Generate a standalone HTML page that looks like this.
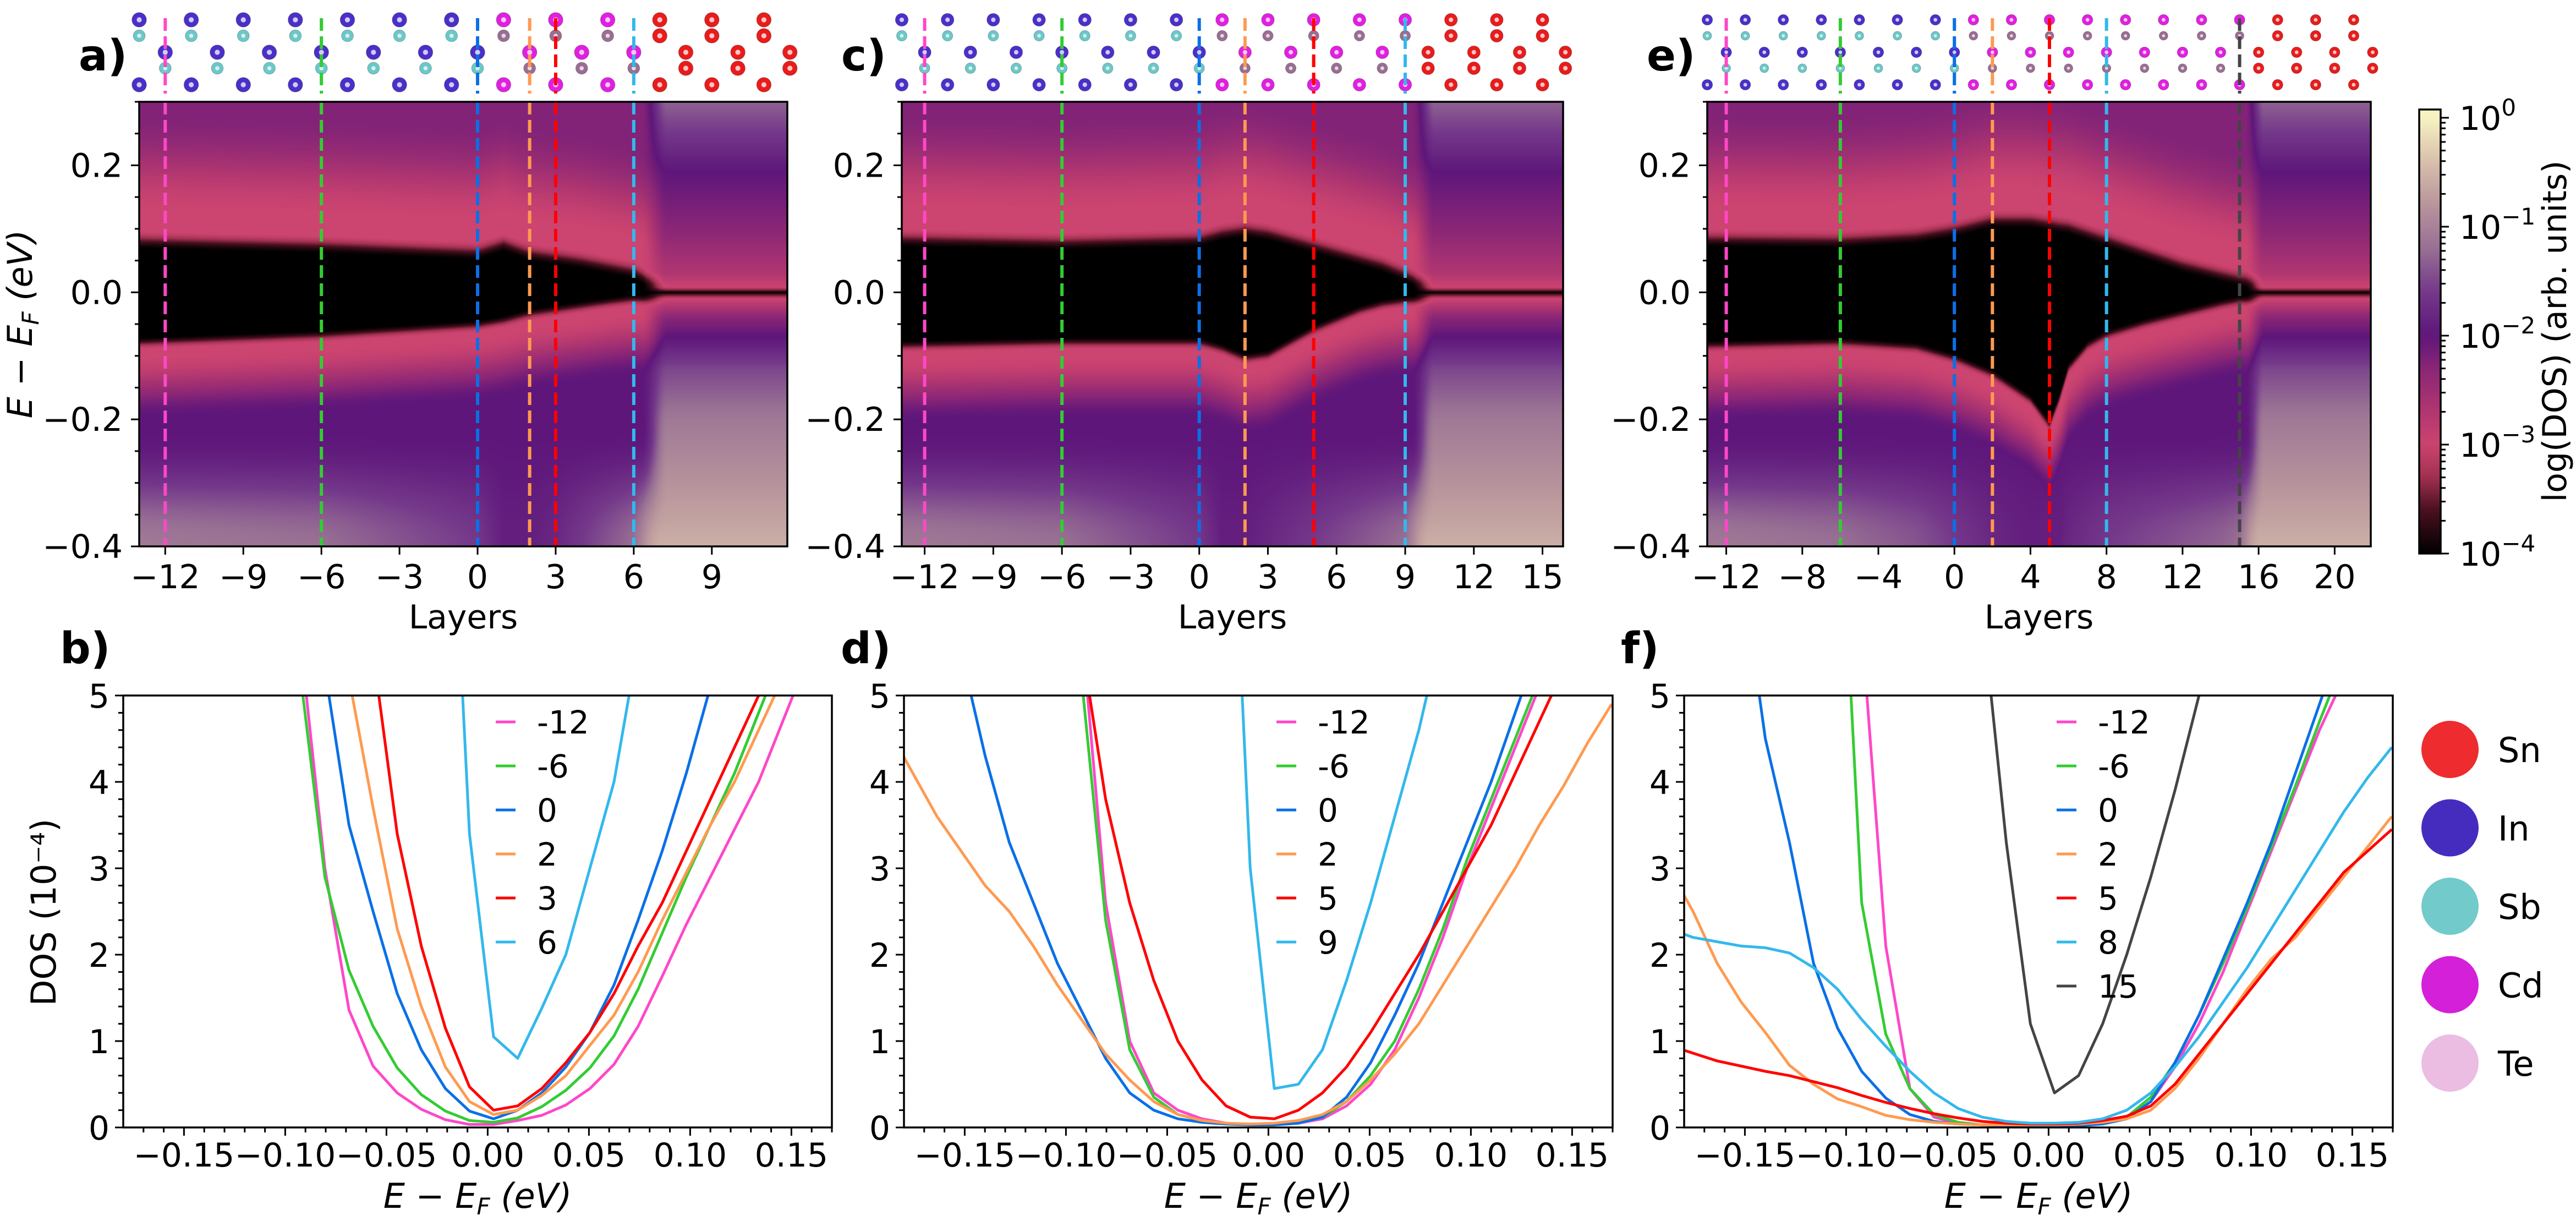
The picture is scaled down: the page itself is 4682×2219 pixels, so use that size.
<!DOCTYPE html>
<html>
<head>
<meta charset="utf-8">
<style>
html,body{margin:0;padding:0;background:#fff;}
body{width:4682px;height:2219px;overflow:hidden;position:relative;font-family:"DejaVu Sans","Liberation Sans",sans-serif;}
canvas{position:absolute;}
#fig{position:absolute;left:0;top:0;}
</style>
</head>
<body>
<canvas id="hm-a"></canvas>
<canvas id="hm-c"></canvas>
<canvas id="hm-e"></canvas>
<svg id="fig" width="4682" height="2219" xmlns="http://www.w3.org/2000/svg"></svg>
<script>
// ---------------- DATA ----------------
const energyGrid = [-0.1875,-0.1756,-0.1637,-0.1518,-0.1399,-0.128,-0.1161,-0.1042,-0.0923,-0.0804,-0.0685,-0.0566,-0.0447,-0.0328,-0.0209,-0.009,0.0029,0.0148,0.0267,0.0386,0.0505,0.0624,0.0743,0.0862,0.0981,0.11,0.1219,0.1338,0.1457,0.1576,0.1695];

const bLabels = ['-12','-6','0','2','3','6'];
const bDosM12 = [9,9,9,9,9,9,9,8,5.6,3.0,1.36,0.71,0.40,0.21,0.09,0.035,0.035,0.08,0.14,0.26,0.45,0.73,1.17,1.75,2.35,2.9,3.45,4.0,4.7,5.4,6.0];
const bDosM6 = [9,9,9,9,9,9,9,8,5.2,2.9,1.82,1.17,0.69,0.38,0.19,0.08,0.06,0.11,0.24,0.43,0.69,1.06,1.6,2.25,2.9,3.5,4.1,4.8,5.5,6.2,7.0];
const bDos0 = [9,9,9,9,9,9,9,9,8,5.3,3.5,2.5,1.55,0.9,0.45,0.19,0.1,0.2,0.4,0.7,1.1,1.65,2.4,3.2,4.1,5.1,6,7,8,9,9];
const bDos2 = [9,9,9,9,9,9,9,9,9,8,5.2,3.7,2.3,1.4,0.7,0.3,0.15,0.2,0.37,0.6,0.95,1.3,1.8,2.4,2.95,3.5,4.0,4.6,5.2,6.0,7.0];
const bDos3 = [9,9,9,9,9,9,9,9,9,9,8,5.5,3.4,2.1,1.15,0.47,0.2,0.25,0.45,0.75,1.1,1.55,2.1,2.6,3.2,3.8,4.4,5.0,5.7,6.4,7.0];
const bDos6 = [9,9,9,9,9,9,9,9,9,9,9,9,9,9,9,3.4,1.05,0.8,1.38,2.0,3.0,4.0,5.6,7,8,9,9,9,9,9,9];

const dLabels = ['-12','-6','0','2','5','9'];
const dDosM12 = [9,9,9,9,9,9,9,9,5.8,2.6,1.0,0.4,0.2,0.1,0.05,0.03,0.03,0.05,0.1,0.25,0.5,0.9,1.5,2.2,3.0,3.7,4.4,5.1,5.9,6.6,7.3];
const dDosM6 = [9,9,9,9,9,9,9,9,5.2,2.4,0.9,0.35,0.15,0.08,0.04,0.03,0.03,0.06,0.12,0.3,0.6,1.0,1.6,2.3,3.1,3.8,4.5,5.2,5.9,6.6,7.3];
const dDos0 = [9,9,8,5.5,4.3,3.3,2.6,1.9,1.35,0.8,0.4,0.2,0.1,0.06,0.04,0.03,0.03,0.05,0.12,0.35,0.75,1.3,1.9,2.6,3.3,4.0,4.8,5.6,6.4,7.2,8];
const dDos2 = [4.6,4.1,3.6,3.2,2.8,2.5,2.1,1.65,1.25,0.85,0.55,0.3,0.15,0.08,0.05,0.04,0.05,0.08,0.15,0.3,0.55,0.85,1.2,1.65,2.1,2.55,3.0,3.5,3.95,4.45,4.9];
const dDos5 = [9,9,9,9,9,9,9,8,5.6,3.8,2.6,1.7,1.0,0.55,0.25,0.12,0.1,0.2,0.4,0.7,1.1,1.55,2.0,2.5,3.0,3.5,4.1,4.7,5.3,6,6.7];
const dDos9 = [9,9,9,9,9,9,9,9,9,9,9,9,9,9,9,3.0,0.45,0.5,0.9,1.7,2.6,3.6,4.6,5.8,7,8,9,9,9,9,9];

const fLabels = ['-12','-6','0','2','5','8','15'];
const fDosM12 = [9,9,9,9,9,9,9,9,5.8,2.1,0.45,0.12,0.05,0.03,0.02,0.02,0.02,0.03,0.05,0.1,0.3,0.7,1.2,1.8,2.5,3.2,3.9,4.6,5.2,5.9,6.6];
const fDosM6 = [9,9,9,9,9,9,9,8,2.6,1.08,0.45,0.15,0.06,0.03,0.02,0.02,0.02,0.02,0.05,0.12,0.35,0.75,1.3,1.9,2.55,3.25,3.95,4.7,5.4,6.1,6.8];
const fDos0 = [9,9,8,6.5,4.5,3.3,1.9,1.15,0.65,0.34,0.15,0.07,0.04,0.03,0.02,0.02,0.02,0.02,0.04,0.1,0.3,0.75,1.3,1.95,2.6,3.3,4.1,4.9,5.7,6.5,7.3];
const fDos2 = [3.0,2.5,1.9,1.45,1.1,0.72,0.5,0.33,0.24,0.14,0.09,0.06,0.04,0.03,0.03,0.03,0.03,0.04,0.06,0.1,0.2,0.45,0.8,1.2,1.6,1.95,2.2,2.55,2.9,3.25,3.6];
const fDos5 = [0.95,0.86,0.77,0.71,0.65,0.6,0.53,0.46,0.37,0.29,0.22,0.16,0.11,0.07,0.05,0.04,0.04,0.05,0.08,0.13,0.25,0.5,0.85,1.2,1.55,1.9,2.25,2.6,2.95,3.2,3.45];
const fDos8 = [2.3,2.2,2.15,2.1,2.08,2.02,1.85,1.6,1.25,0.94,0.65,0.4,0.22,0.12,0.07,0.05,0.05,0.06,0.1,0.2,0.4,0.7,1.05,1.45,1.85,2.3,2.75,3.2,3.65,4.05,4.4];
const fDos15 = [9,9,9,9,9,9,9,9,9,9,9,9,9,6,3.3,1.2,0.4,0.6,1.2,2.0,2.9,3.9,5.0,6.2,7,8,9,9,9,9,9];

const dosYTicks = [0,1,2,3,4,5];
const dosXTicks = [-0.15,-0.10,-0.05,0.00,0.05,0.10,0.15];
const dosXTickLabels = ['\u22120.15','\u22120.10','\u22120.05','0.00','0.05','0.10','0.15'];

const hmYTicks = [-0.4,-0.2,0.0,0.2];
const hmYTickLabels = ['\u22120.4','\u22120.2','0.0','0.2'];
const aTicks = [-12,-9,-6,-3,0,3,6,9];
const cTicks = [-12,-9,-6,-3,0,3,6,9,12,15];
const eTicks = [-12,-8,-4,0,4,8,12,16,20];
const aMarkers = [-12,-6,0,2,3,6];
const cMarkers = [-12,-6,0,2,5,9];
const eMarkers = [-12,-6,0,2,5,8,15];

const aKnotLayer = [-13,-6,0,1,2,3,4,5,6,6.5,7,12];
const aGapTop = [0.067,0.06,0.05,0.063,0.048,0.042,0.036,0.028,0.02,0.008,0.005,0.005];
const aGapBot = [-0.07,-0.059,-0.043,-0.036,-0.025,-0.019,-0.013,-0.007,-0.002,-0.003,-0.004,-0.004];
const aBotVal = [-1.1,-1.2,-1.6,-1.9,-1.9,-1.8,-1.6,-1.4,-1.2,-0.8,-0.6,-0.6];
const cKnotLayer = [-13,-6,0,1,2,3,4,5,6,7,8,9,9.5,10,16];
const cGapTop = [0.07,0.065,0.07,0.08,0.085,0.08,0.07,0.06,0.05,0.04,0.03,0.015,0.006,0.005,0.005];
const cGapBot = [-0.075,-0.07,-0.07,-0.08,-0.095,-0.09,-0.07,-0.05,-0.035,-0.02,-0.01,-0.005,-0.004,-0.004,-0.004];
const cBotVal = [-1.1,-1.2,-1.6,-1.9,-1.9,-1.8,-1.7,-1.6,-1.5,-1.4,-1.3,-1.2,-0.8,-0.6,-0.6];
const eKnotLayer = [-13,-6,-2,0,2,4,5,5.5,6,7,8,10,12,14,15,15.5,16,22];
const eGapTop = [0.07,0.068,0.075,0.085,0.1,0.1,0.095,0.092,0.09,0.08,0.07,0.05,0.03,0.015,0.008,0.005,0.005,0.005];
const eGapBot = [-0.075,-0.07,-0.078,-0.095,-0.12,-0.16,-0.2,-0.16,-0.11,-0.075,-0.058,-0.04,-0.025,-0.01,-0.004,-0.004,-0.004,-0.004];
const eBotVal = [-1.1,-1.2,-1.4,-1.6,-1.8,-1.9,-1.9,-1.9,-1.8,-1.7,-1.6,-1.5,-1.4,-1.3,-1.2,-0.8,-0.6,-0.6];
const metalE = [0.3,0.22,0.19,0.1,0.03,0.008,0.002,0,-0.003,-0.01,-0.04,-0.07,-0.12,-0.2,-0.4];
const metalL = [-1.3,-1.8,-2.0,-2.3,-2.7,-3.0,-3.6,-4,-3.6,-3.0,-2.3,-2.0,-1.5,-1.1,-0.55];

const cbTickExps = [0,-1,-2,-3,-4];
const elementNames = ['Sn','In','Sb','Cd','Te'];
const elementColors = ['#ee2b2e','#462cbe','#72cbca','#d420d8','#ebbde3'];

// ---------------- HELPERS ----------------
const NS = 'http://www.w3.org/2000/svg';
const svg = document.getElementById('fig');
const FONT = '"DejaVu Sans","Liberation Sans",sans-serif';
const seriesColors = ['#ff47c8','#33cc33','#0a70e6','#ff9a50','#ff0000','#33b8ec','#444444'];

function mk(tag, attrs, parent, name, inter) {
  const el = document.createElementNS(NS, tag);
  for (const k in attrs) el.setAttribute(k, attrs[k]);
  
  
  (parent || svg).appendChild(el);
  return el;
}
function txt(s, x, y, size, anchor, parent, name, extra) {
  const a = Object.assign({x:x, y:y, 'font-size':size, 'text-anchor':anchor, 'font-family':FONT, fill:'#000'}, extra || {});
  const t = mk('text', a, parent, name, false);
  t.textContent = s;
  return t;
}
function lerpKnots(xs, ys, x) {
  if (x <= xs[0]) return ys[0];
  for (let i = 1; i < xs.length; i++) {
    if (x <= xs[i]) { const t = (x - xs[i-1])/(xs[i]-xs[i-1]); return ys[i-1] + t*(ys[i]-ys[i-1]); }
  }
  return ys[ys.length-1];
}
function sm(t){ t = Math.max(0, Math.min(1, t)); return t*t*(3-2*t); }

const cmapL = [-4,-3.6,-3.3,-3.0,-2.7,-2.3,-2.0,-1.6,-1.2,-0.8,-0.4,0,0.1];
const cmapC = ['#000000','#4a1020','#a03050','#cc4470','#b03670','#8a2676','#5e167a','#74388a','#987094','#b8949c','#d8c0ac','#f8f2c0','#fbf6c4'];
function hex(c){ return [parseInt(c.substr(1,2),16),parseInt(c.substr(3,2),16),parseInt(c.substr(5,2),16)]; }
const cmapRGB = cmapC.map(hex);
function cmap(L) {
  if (L <= cmapL[0]) return cmapRGB[0];
  for (let i = 1; i < cmapL.length; i++) {
    if (L <= cmapL[i]) { const t = (L-cmapL[i-1])/(cmapL[i]-cmapL[i-1]); const a = cmapRGB[i-1], b = cmapRGB[i]; return [a[0]+t*(b[0]-a[0]), a[1]+t*(b[1]-a[1]), a[2]+t*(b[2]-a[2])]; }
  }
  return cmapRGB[cmapRGB.length-1];
}
const LUT = []; for (let i = 0; i <= 1024; i++) LUT.push(cmap(-4 + i*4.1/1024));

// ---------------- HEATMAPS ----------------
const HT = 185, HB = 993, EMIN = -0.4, EMAX = 0.3;
const hmPanels = [
  {id:'a', canvas:'hm-a', left:253, right:1431, xmin:-13, xmax:11.9, ticks:aTicks, markers:aMarkers, markerColors:[0,1,2,3,4,5], knots:aKnotLayer, gt:aGapTop, gb:aGapBot, bv:aBotVal, boundary:6.3, cdEnd:6, label:'a)'},
  {id:'c', canvas:'hm-c', left:1639, right:2841, xmin:-13, xmax:15.9, ticks:cTicks, markers:cMarkers, markerColors:[0,1,2,3,4,5], knots:cKnotLayer, gt:cGapTop, gb:cGapBot, bv:cBotVal, boundary:9.3, cdEnd:9, label:'c)'},
  {id:'e', canvas:'hm-e', left:3103, right:4309, xmin:-13, xmax:21.9, ticks:eTicks, markers:eMarkers, markerColors:[0,1,2,3,4,5,6], knots:eKnotLayer, gt:eGapTop, gb:eGapBot, bv:eBotVal, boundary:15.3, cdEnd:15, label:'e)'}
];
const yE = E => HB - (E - EMIN)/(EMAX - EMIN)*(HB - HT);

hmPanels.forEach(p => {
  const W = p.right - p.left, H = HB - HT;
  const cv = document.getElementById(p.canvas);
  cv.width = W; cv.height = H;
  cv.style.left = p.left + 'px'; cv.style.top = HT + 'px';
  const ctx = cv.getContext('2d');
  const img = ctx.createImageData(W, H);
  const Es = [], Lm = [];
  const mE = metalE.slice().reverse(), mL = metalL.slice().reverse();
  for (let py = 0; py < H; py++) { const E = EMAX - (py+0.5)/H*(EMAX-EMIN); Es.push(E); Lm.push(lerpKnots(mE, mL, E)); }
  for (let px = 0; px < W; px++) {
    const u = p.xmin + (px+0.5)/W*(p.xmax - p.xmin);
    const gt = lerpKnots(p.knots, p.gt, u), gb = lerpKnots(p.knots, p.gb, u), bv = lerpKnots(p.knots, p.bv, u);
    const m = sm((u - p.boundary)/1.0);
    const topVal = -2.25;
    for (let py = 0; py < H; py++) {
      const E = Es[py];
      let Ls;
      if (E >= gt) {
        const d = E - gt;
        Ls = d < 0.03 ? -4 + sm(d/0.03) : -3 + (topVal+3)*sm((d-0.06)/0.15);
      } else if (E <= gb) {
        const d = gb - E;
        if (d < 0.02) Ls = -4 + sm(d/0.02);
        else {
          let L1 = -3 + sm((d-0.03)/0.1);
          if (E < -0.22) L1 = L1 + (bv - L1)*sm((-0.22-E)/0.18);
          Ls = L1;
        }
      } else Ls = -4;
      const L = (1-m)*Ls + m*Lm[py];
      const idx = Math.max(0, Math.min(1024, Math.round((L+4)/4.1*1024)));
      const c = LUT[idx];
      const o = (py*W + px)*4;
      img.data[o] = c[0]; img.data[o+1] = c[1]; img.data[o+2] = c[2]; img.data[o+3] = 255;
    }
  }
  ctx.putImageData(img, 0, 0);

  const g = mk('g', {}, svg, 'panel-' + p.id, false);
  const xS = v => p.left + (v - p.xmin)/(p.xmax - p.xmin)*(p.right - p.left);
  const lw = xS(1) - xS(0);
  const ag = mk('g', {}, g, 'atom-structure-' + p.id, false);
  for (let n = -13; n <= Math.floor(p.xmax + 0.2); n++) {
    const x = xS(n);
    let cat, an;
    if (n <= 0) { cat = 'In'; an = 'Sb'; } else if (n <= p.cdEnd) { cat = 'Cd'; an = 'Te'; } else { cat = 'Sn'; an = 'Sn'; }
    const rows = (Math.abs(n) % 2 === 1) ? [[36,cat],[65,an],[154,cat]] : [[95,cat],[124,an]];
    rows.forEach(r => {
      const el = r[1];
      const col = {In:'#4a30c8', Sb:'#6cc8c8', Cd:'#e020e0', Te:'#9a6e92', Sn:'#e81c1c'}[el];
      const rad = (el === 'Sb' || el === 'Te') ? lw*0.23 : lw*0.28;
      mk('circle', {cx:x, cy:r[0], r:rad, fill:col, stroke:'rgba(0,0,0,0.25)', 'stroke-width':1}, ag, 'atom-' + el.toLowerCase(), false);
      mk('circle', {cx:x, cy:r[0], r:rad*0.35, fill:'rgba(255,255,255,0.75)'}, ag, 'atom-highlight', false);
    });
  }
  p.markers.forEach((mv, i) => {
    const col = seriesColors[p.markerColors[i]];
    const x = xS(mv);
    mk('line', {x1:x, y1:33, x2:x, y2:170, stroke:col, 'stroke-width':6, 'stroke-dasharray':'23 10'}, g, 'layer-marker-top-' + mv, false);
    mk('line', {x1:x, y1:HT, x2:x, y2:HB, stroke:col, 'stroke-width':6, 'stroke-dasharray':'23 10'}, g, 'layer-marker-' + mv, false);
  });
  mk('rect', {x:p.left, y:HT, width:p.right-p.left, height:HB-HT, fill:'none', stroke:'#000', 'stroke-width':3.5}, g, 'heatmap-frame-' + p.id, false);
  for (let k = -8; k <= 6; k++) {
    const v = k*0.05, y = yE(v);
    const major = Math.abs(Math.round(v*100) % 20) === 0;
    mk('line', {x1:p.left - (major ? 15 : 8), y1:y, x2:p.left, y2:y, stroke:'#000', 'stroke-width':3}, g, major ? 'y-tick-major' : 'y-tick-minor', false);
  }
  hmYTicks.forEach((v, i) => txt(hmYTickLabels[i], p.left - 30, yE(v) + 21, 60, 'end', g, 'y-tick-label'));
  p.ticks.forEach(v => {
    const x = xS(v);
    mk('line', {x1:x, y1:HB, x2:x, y2:HB+15, stroke:'#000', 'stroke-width':3}, g, 'x-tick', false);
    txt(v < 0 ? '\u2212' + Math.abs(v) : String(v), x, 1069, 60, 'middle', g, 'x-tick-label');
  });
  txt('Layers', (p.left + p.right)/2, 1142, 60, 'middle', g, 'x-axis-title');
  txt(p.label, p.left - 110, 128, 78, 'start', g, 'panel-label-' + p.id, {'font-weight':'bold'});
});

{
  const t = mk('text', {x:0, y:0, transform:'translate(58,589) rotate(-90)', 'font-size':62, 'text-anchor':'middle', 'font-family':FONT, 'font-style':'italic'}, svg, 'y-axis-title-heatmap', false);
  t.innerHTML = 'E \u2212 E<tspan dy="12" font-size="42">F</tspan><tspan dy="-12"> (eV)</tspan>';
}

// ---------------- COLORBAR ----------------
{
  const cbL = 4397, cbR = 4436, cbT = 199, cbB = 1006;
  const dec = 198, y0 = 214;
  const yL = L => y0 - L*dec;
  const g = mk('g', {}, svg, 'colorbar', false);
  const defs = mk('defs', {}, g, 'colorbar-defs', false);
  const lg = mk('linearGradient', {id:'cbgrad', x1:0, y1:1, x2:0, y2:0}, defs, 'colorbar-gradient', false);
  const Ltop = (y0 - cbT)/dec, Lbot = (y0 - cbB)/dec;
  for (let i = 0; i <= 40; i++) {
    const L = Lbot + i/40*(Ltop - Lbot);
    const c = cmap(L);
    mk('stop', {offset:(i/40), 'stop-color':'rgb(' + c.map(Math.round).join(',') + ')'}, lg, 'colorbar-stop', false);
  }
  mk('rect', {x:cbL, y:cbT, width:cbR-cbL, height:cbB-cbT, fill:'url(#cbgrad)', stroke:'#000', 'stroke-width':3.5}, g, 'colorbar-bar', false);
  for (let d = -4; d <= 0; d++) {
    for (let k = 1; k <= 9; k++) {
      const L = d + Math.log10(k);
      if (L > Ltop || L < Lbot - 0.001) continue;
      const y = yL(L);
      mk('line', {x1:cbR, y1:y, x2:cbR + (k === 1 ? 15 : 9), y2:y, stroke:'#000', 'stroke-width':3}, g, k === 1 ? 'colorbar-tick-major' : 'colorbar-tick-minor', false);
    }
  }
  cbTickExps.forEach(e => {
    const t = mk('text', {x:4470, y:yL(e) + 22, 'font-size':60, 'font-family':FONT}, g, 'colorbar-tick-label', false);
    t.innerHTML = '10<tspan dy="-26" font-size="42">' + (e < 0 ? '\u2212' + Math.abs(e) : '0') + '</tspan>';
  });
  txt('log(DOS) (arb. units)', 0, 0, 60, 'middle', g, 'colorbar-title', {transform:'translate(4664,602) rotate(-90)'});
}

// ---------------- DOS LINE PLOTS ----------------
const PT = 1264, PB = 2049, XMIN = -0.18, XMAX = 0.17, YMAX = 5;
const dosPanels = [
  {id:'b', left:224, right:1512, labels:bLabels, series:[bDosM12,bDosM6,bDos0,bDos2,bDos3,bDos6], colors:[0,1,2,3,4,5], label:'b)'},
  {id:'d', left:1643, right:2931, labels:dLabels, series:[dDosM12,dDosM6,dDos0,dDos2,dDos5,dDos9], colors:[0,1,2,3,4,5], label:'d)'},
  {id:'f', left:3061, right:4349, labels:fLabels, series:[fDosM12,fDosM6,fDos0,fDos2,fDos5,fDos8,fDos15], colors:[0,1,2,3,4,5,6], label:'f)'}
];
dosPanels.forEach(p => {
  const g = mk('g', {}, svg, 'dos-panel-' + p.id, false);
  const xS = v => p.left + (v - XMIN)/(XMAX - XMIN)*(p.right - p.left);
  const yS = v => PB - v/YMAX*(PB - PT);
  const defs = mk('defs', {}, g, 'clip-defs', false);
  const cp = mk('clipPath', {id:'clip-' + p.id}, defs, 'clip-path', false);
  mk('rect', {x:p.left, y:PT, width:p.right-p.left, height:PB-PT}, cp, 'clip-rect', false);
  const lines = mk('g', {'clip-path':'url(#clip-' + p.id + ')'}, g, 'series-group', false);
  p.series.forEach((s, i) => {
    const pts = s.map((v, k) => xS(energyGrid[k]).toFixed(1) + ',' + yS(v).toFixed(1)).join(' ');
    mk('polyline', {points:pts, fill:'none', stroke:seriesColors[p.colors[i]], 'stroke-width':5, 'stroke-linejoin':'round'}, lines, 'dos-line-layer-' + p.labels[i], false);
  });
  mk('rect', {x:p.left, y:PT, width:p.right-p.left, height:PB-PT, fill:'none', stroke:'#000', 'stroke-width':3.5}, g, 'plot-frame-' + p.id, false);
  for (let k = 0; k <= 25; k++) {
    const v = k*0.2, y = yS(v), major = k % 5 === 0;
    mk('line', {x1:p.left - (major ? 15 : 9), y1:y, x2:p.left, y2:y, stroke:'#000', 'stroke-width':3}, g, major ? 'y-tick-major' : 'y-tick-minor', false);
  }
  dosYTicks.forEach(v => txt(String(v), p.left - 25, yS(v) + 22, 60, 'end', g, 'y-tick-label'));
  for (let k = -17; k <= 17; k++) {
    const v = k*0.01, x = xS(v), major = k % 5 === 0;
    if (x < p.left - 1 || x > p.right + 1) continue;
    mk('line', {x1:x, y1:PB, x2:x, y2:PB + (major ? 15 : 9), stroke:'#000', 'stroke-width':3}, g, major ? 'x-tick-major' : 'x-tick-minor', false);
  }
  dosXTicks.forEach((v, i) => txt(dosXTickLabels[i], xS(v), 2120, 60, 'middle', g, 'x-tick-label'));
  const xt = mk('text', {x:(p.left+p.right)/2, y:2195, 'font-size':62, 'text-anchor':'middle', 'font-family':FONT, 'font-style':'italic'}, g, 'x-axis-title', false);
  xt.innerHTML = 'E \u2212 E<tspan dy="12" font-size="42">F</tspan><tspan dy="-12"> (eV)</tspan>';
  const lgd = mk('g', {}, g, 'legend-' + p.id, false);
  p.labels.forEach((lab, i) => {
    const y = 1312 + i*80;
    const le = mk('g', {}, lgd, 'legend-entry', false);
    mk('line', {x1:p.left + 677, y1:y, x2:p.left + 713, y2:y, stroke:seriesColors[p.colors[i]], 'stroke-width':5}, le, 'legend-swatch', false);
    txt(lab, p.left + 752, y + 21, 58, 'start', le, 'legend-label');
  });
  txt(p.label, p.left - 115, 1205, 78, 'start', g, 'panel-label-' + p.id, {'font-weight':'bold'});
});
txt('DOS (10\u207B\u2074)', 0, 0, 62, 'middle', svg, 'y-axis-title-dos', {transform:'translate(101,1658) rotate(-90)'});

// ---------------- ELEMENT LEGEND ----------------
{
  const g = mk('g', {}, svg, 'element-legend', false);
  elementNames.forEach((n, i) => {
    const y = 1362 + i*142.5;
    const e = mk('g', {}, g, 'element-entry-' + n.toLowerCase(), false);
    mk('circle', {cx:4453, cy:y, r:52, fill:elementColors[i]}, e, 'element-marker', false);
    txt(n, 4540, y + 23, 62, 'start', e, 'element-label');
  });
}
</script>
</body>
</html>
